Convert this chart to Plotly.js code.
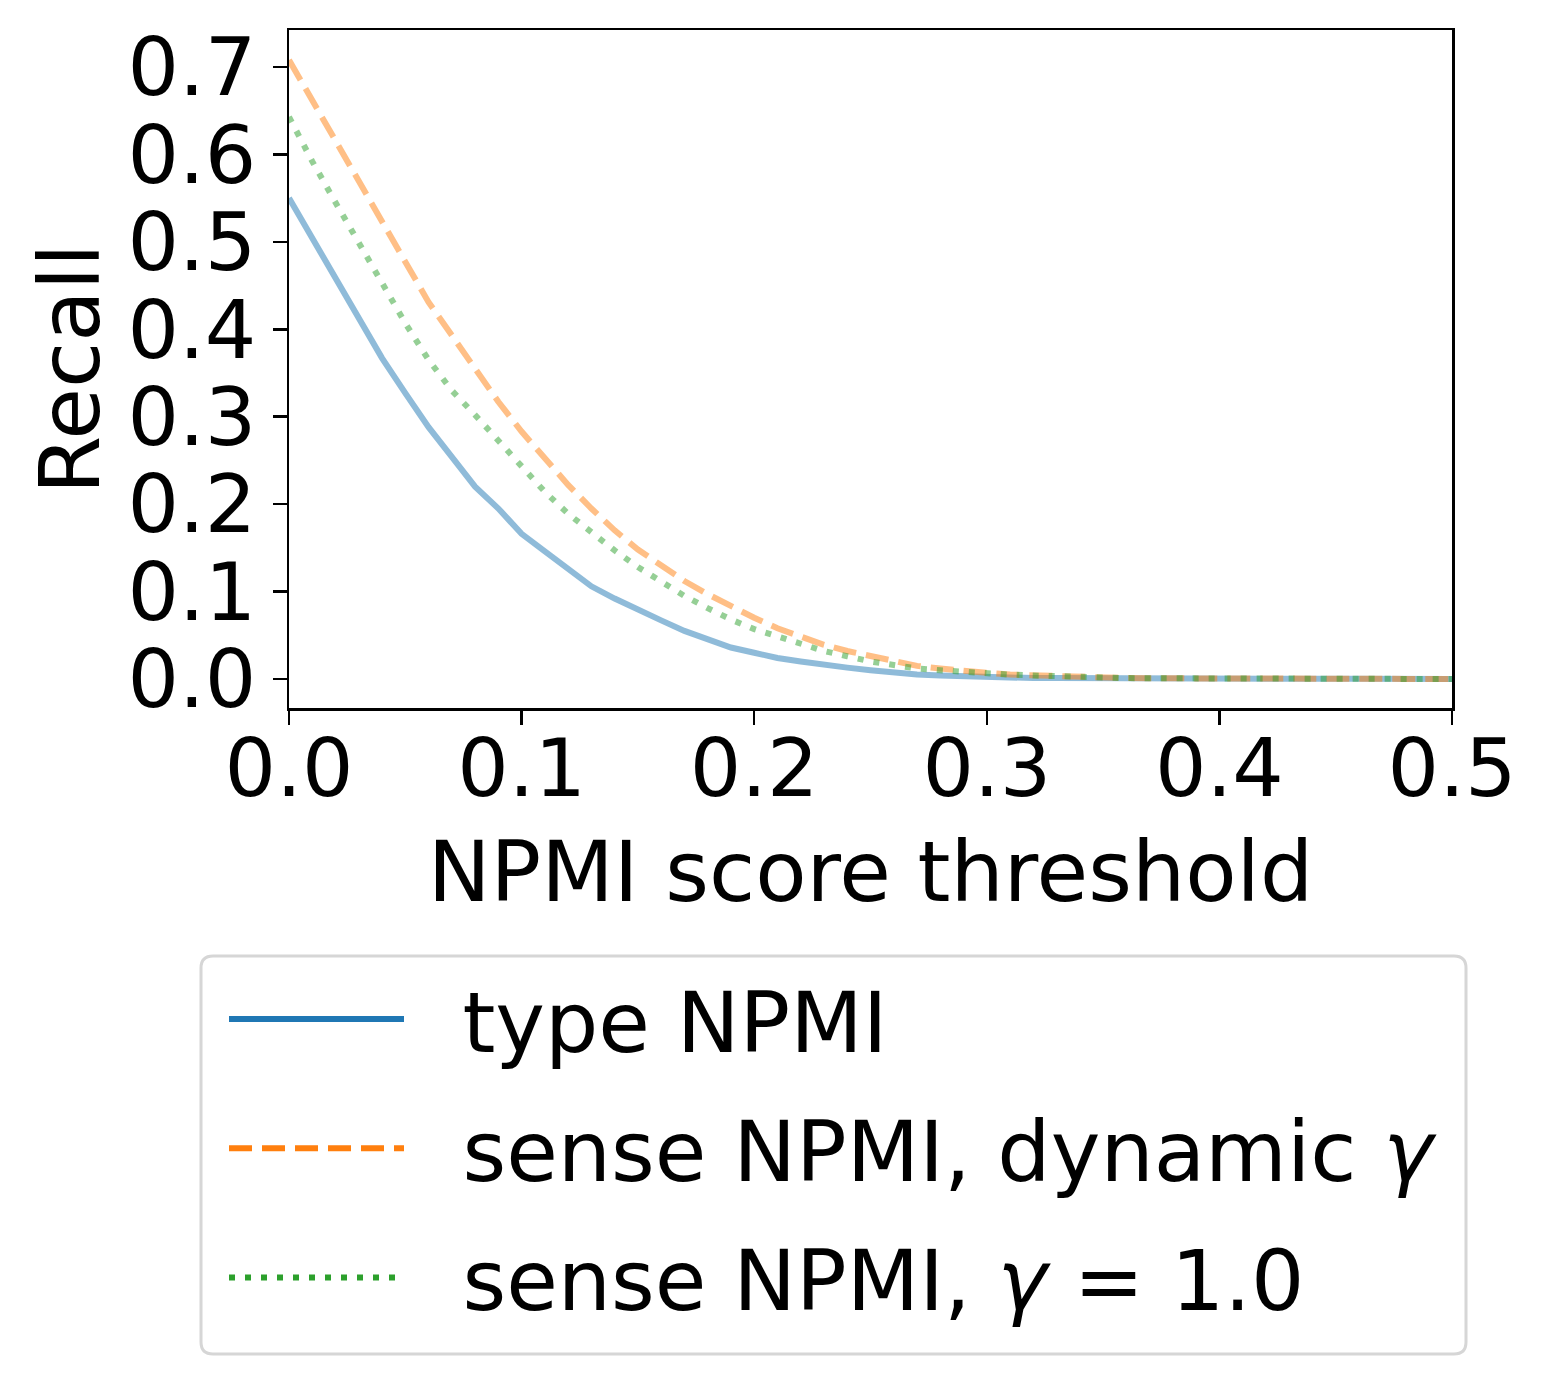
<!DOCTYPE html>
<html>
<head>
<meta charset="utf-8">
<script src="https://cdn.plot.ly/plotly-3.0.1.min.js"></script>
<style>
  body { margin: 0; background: #fff; }
  #chart { width: 1548px; height: 1385px; }
</style>
</head>
<body>
<div id="chart"></div>
<script>
// NPMI score threshold, steps of 0.01
const thresholds = [
  0.00, 0.01, 0.02, 0.03, 0.04, 0.05, 0.06, 0.07, 0.08, 0.09,
  0.10, 0.11, 0.12, 0.13, 0.14, 0.15, 0.16, 0.17, 0.18, 0.19,
  0.20, 0.21, 0.22, 0.23, 0.24, 0.25, 0.26, 0.27, 0.28, 0.29,
  0.30, 0.31, 0.32, 0.33, 0.34, 0.35, 0.36, 0.37, 0.38, 0.39,
  0.40, 0.41, 0.42, 0.43, 0.44, 0.45, 0.46, 0.47, 0.48, 0.49, 0.50
];

const typeNpmi = [
  0.550, 0.505, 0.459, 0.413, 0.367, 0.327, 0.288, 0.254, 0.220, 0.195,
  0.166, 0.146, 0.126, 0.106, 0.092, 0.079, 0.067, 0.055, 0.045, 0.036,
  0.030, 0.024, 0.020, 0.016, 0.013, 0.010, 0.007, 0.005, 0.004, 0.003,
  0.002, 0.0015, 0.001, 0.001, 0.0008, 0.0006, 0.0005, 0.0005, 0.0004, 0.0004,
  0.0003, 0.0003, 0.0003, 0.0002, 0.0002, 0.0002, 0.0002, 0.0001, 0.0001, 0.0001, 0.0001
];

const senseDynamic = [
  0.708, 0.662, 0.616, 0.570, 0.523, 0.476, 0.431, 0.393, 0.355, 0.317,
  0.283, 0.252, 0.222, 0.195, 0.170, 0.148, 0.129, 0.112, 0.097, 0.083,
  0.070, 0.058, 0.048, 0.039, 0.032, 0.026, 0.020, 0.015, 0.012, 0.009,
  0.007, 0.005, 0.004, 0.003, 0.002, 0.0015, 0.001, 0.0008, 0.0006, 0.0005,
  0.0004, 0.0004, 0.0003, 0.0003, 0.0002, 0.0002, 0.0002, 0.0001, 0.0001, 0.0001, 0.0001
];

const senseGamma1 = [
  0.643, 0.592, 0.545, 0.498, 0.452, 0.407, 0.365, 0.330, 0.302, 0.272,
  0.243, 0.214, 0.189, 0.167, 0.147, 0.128, 0.111, 0.095, 0.081, 0.068,
  0.057, 0.049, 0.040, 0.032, 0.026, 0.020, 0.016, 0.012, 0.010, 0.008,
  0.007, 0.005, 0.004, 0.003, 0.002, 0.0015, 0.001, 0.0008, 0.0006, 0.0005,
  0.0004, 0.0004, 0.0003, 0.0003, 0.0002, 0.0002, 0.0002, 0.0001, 0.0001, 0.0001, 0.0001
];

const seriesNames = ["type NPMI", "sense NPMI, dynamic <i>γ</i>", "sense NPMI, <i>γ</i> = 1.0"];
const seriesColors = ["#1f77b4", "#ff7f0e", "#2ca02c"];
const seriesDash = ["solid", "23px,10px", "6px,10px"];
const seriesValues = [typeNpmi, senseDynamic, senseGamma1];

const font = "DejaVu Sans, sans-serif";

const traces = [];
// curves (half transparent, as in the original)
seriesValues.forEach((vals, i) => {
  traces.push({
    x: thresholds, y: vals, mode: "lines", showlegend: false,
    opacity: 0.5, hoverinfo: "skip",
    line: { color: seriesColors[i], width: 6, dash: seriesDash[i] }
  });
});
// legend entries at full colour
seriesNames.forEach((name, i) => {
  traces.push({
    x: [null], y: [null], mode: "lines", name: "\u00a0\u00a0" + name, legendgroup: "g" + i,
    line: { color: seriesColors[i], width: 6, dash: seriesDash[i] }
  });
});

const axisCommon = {
  showline: true, mirror: true, linecolor: "#000", linewidth: 2.5,
  ticks: "outside", ticklen: 14, tickwidth: 2.5, tickcolor: "#000",
  showgrid: false, zeroline: false,
  tickfont: { family: font, size: 81, color: "#000" },
  tickformat: ".1f", dtick: 0.1
};

// rounded legend frame, in paper coordinates
const plotL = 289, plotW = 1163, plotB = 708, plotH = 678;
function px(x) { return (x - plotL) / plotW; }
function py(y) { return (plotB - y) / plotH; }
function roundedBox(l, t, r, b, rad) {
  return "M" + px(l + rad) + "," + py(t) +
    " L" + px(r - rad) + "," + py(t) +
    " Q" + px(r) + "," + py(t) + " " + px(r) + "," + py(t + rad) +
    " L" + px(r) + "," + py(b - rad) +
    " Q" + px(r) + "," + py(b) + " " + px(r - rad) + "," + py(b) +
    " L" + px(l + rad) + "," + py(b) +
    " Q" + px(l) + "," + py(b) + " " + px(l) + "," + py(b - rad) +
    " L" + px(l) + "," + py(t + rad) +
    " Q" + px(l) + "," + py(t) + " " + px(l + rad) + "," + py(t) + " Z";
}

const layout = {
  width: 1548, height: 1385,
  margin: { l: 289, r: 96, t: 30, b: 677 },
  paper_bgcolor: "#fff", plot_bgcolor: "#fff",
  font: { family: font, color: "#000" },
  xaxis: Object.assign({}, axisCommon, {
    range: [0, 0.5], tick0: 0, ticklabelstandoff: -26,
    title: { text: "NPMI score threshold", font: { family: font, size: 84 }, standoff: 29 }
  }),
  yaxis: Object.assign({}, axisCommon, {
    range: [-0.0332, 0.7423], tick0: 0,
    title: { text: "Recall", font: { family: font, size: 84 }, standoff: 0 }
  }),
  legend: {
    x: px(224), xanchor: "left", y: py(958), yanchor: "top",
    bgcolor: "rgba(0,0,0,0)", borderwidth: 0,
    font: { family: font, size: 84, color: "#000" },
    itemwidth: 175, tracegroupgap: 17
  },
  shapes: [{
    type: "path", xref: "paper", yref: "paper", layer: "below",
    path: roundedBox(201, 956, 1466, 1354, 12),
    line: { color: "#d6d6d6", width: 3 }, fillcolor: "#fff"
  }],
  showlegend: true
};

Plotly.newPlot("chart", traces, layout, { displayModeBar: false, staticPlot: true });
</script>
</body>
</html>
